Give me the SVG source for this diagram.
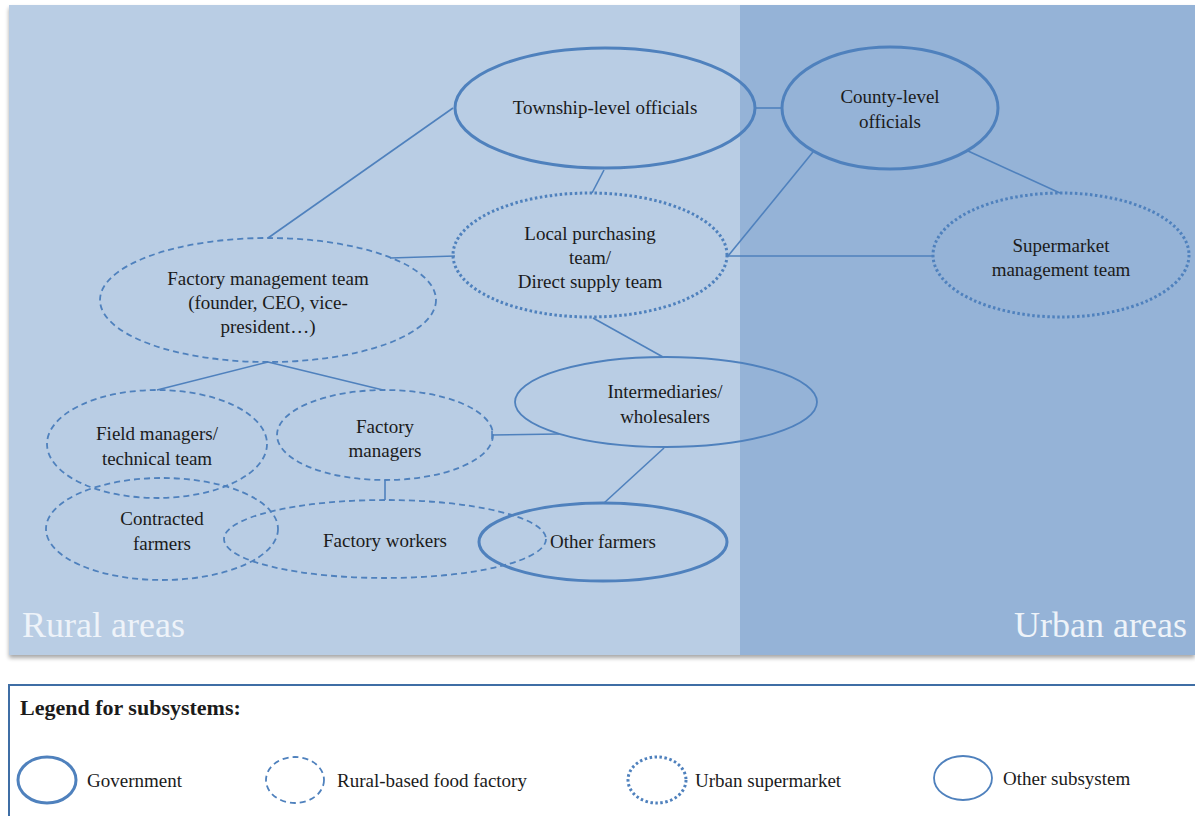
<svg xmlns="http://www.w3.org/2000/svg" width="1195" height="816" viewBox="0 0 1195 816">
<defs>
<style>
.t{font-family:"Liberation Serif","DejaVu Serif",serif;font-size:19px;fill:#1b1b1b;text-anchor:middle}
.tl{font-family:"Liberation Serif","DejaVu Serif",serif;font-size:19px;fill:#1b1b1b}
.area{font-family:"Liberation Serif","DejaVu Serif",serif;font-size:36px;fill:#EEF3F9}
.gov{fill:none;stroke:#4F81BD;stroke-width:3}
.fac{fill:none;stroke:#4F81BD;stroke-width:1.8;stroke-dasharray:6 4}
.sup{fill:none;stroke:#4F81BD;stroke-width:3;stroke-dasharray:2.5 2.5}
.oth{fill:none;stroke:#4F81BD;stroke-width:1.8}
.c line{stroke:#4F81BD;stroke-width:1.6}
</style>
<filter id="sh" x="-5%" y="-5%" width="110%" height="110%">
<feGaussianBlur in="SourceAlpha" stdDeviation="2"/>
<feOffset dx="0" dy="3"/>
<feComponentTransfer><feFuncA type="linear" slope="0.35"/></feComponentTransfer>
<feMerge><feMergeNode/><feMergeNode in="SourceGraphic"/></feMerge>
</filter>
</defs>
<rect width="1195" height="816" fill="#ffffff"/>
<g id="background" filter="url(#sh)">
<rect x="9" y="5" width="731" height="650" fill="#B9CDE4"/>
<rect x="740" y="5" width="455" height="650" fill="#95B3D7"/>
</g>
<text class="area" x="22" y="637">Rural areas</text>
<text class="area" x="1187" y="637" text-anchor="end">Urban areas</text>

<g id="connectors" class="c">
<line x1="453" y1="108" x2="268" y2="238"/>
<line x1="755" y1="108" x2="782" y2="108"/>
<line x1="604" y1="170" x2="592" y2="193"/>
<line x1="390" y1="258" x2="455" y2="256"/>
<line x1="813" y1="152" x2="728" y2="256"/>
<line x1="728" y1="256" x2="933" y2="256"/>
<line x1="968" y1="151" x2="1060" y2="193"/>
<line x1="593" y1="318" x2="663" y2="357"/>
<line x1="268" y1="362" x2="157" y2="390"/>
<line x1="268" y1="362" x2="383" y2="390"/>
<line x1="492" y1="435" x2="559" y2="434"/>
<line x1="492" y1="431" x2="492" y2="439"/>
<line x1="385" y1="480" x2="385" y2="500"/>
<line x1="664" y1="448" x2="604" y2="503"/>
</g>

<g id="township">
<ellipse class="gov" cx="605" cy="108" rx="150" ry="60"/>
<text class="t" x="605" y="114">Township-level officials</text>
</g>
<g id="county">
<ellipse class="gov" cx="890" cy="108" rx="108" ry="61"/>
<text class="t" x="890" y="103">County-level</text>
<text class="t" x="890" y="128">officials</text>
</g>
<g id="local-purchasing">
<ellipse class="sup" cx="590" cy="255" rx="137" ry="62"/>
<text class="t" x="590" y="240">Local purchasing</text>
<text class="t" x="590" y="264">team/</text>
<text class="t" x="590" y="288">Direct supply team</text>
</g>
<g id="supermarket">
<ellipse class="sup" cx="1061" cy="255" rx="128" ry="62"/>
<text class="t" x="1061" y="252">Supermarket</text>
<text class="t" x="1061" y="276">management team</text>
</g>
<g id="factory-management">
<ellipse class="fac" cx="268" cy="300" rx="168" ry="62"/>
<text class="t" x="268" y="285">Factory management team</text>
<text class="t" x="268" y="309">(founder, CEO, vice-</text>
<text class="t" x="268" y="333">president…)</text>
</g>
<g id="field-managers">
<ellipse class="fac" cx="157" cy="444" rx="110" ry="54"/>
<text class="t" x="157" y="440">Field managers/</text>
<text class="t" x="157" y="465">technical team</text>
</g>
<g id="factory-managers">
<ellipse class="fac" cx="385" cy="435" rx="108" ry="45"/>
<text class="t" x="385" y="433">Factory</text>
<text class="t" x="385" y="457">managers</text>
</g>
<g id="contracted-farmers">
<ellipse class="fac" cx="162" cy="529" rx="116" ry="51"/>
<text class="t" x="162" y="525">Contracted</text>
<text class="t" x="162" y="550">farmers</text>
</g>
<g id="factory-workers">
<ellipse class="fac" cx="385" cy="539" rx="161" ry="39"/>
<text class="t" x="385" y="547">Factory workers</text>
</g>
<g id="intermediaries">
<ellipse class="oth" cx="666" cy="402" rx="151" ry="45"/>
<text class="t" x="665" y="398">Intermediaries/</text>
<text class="t" x="665" y="423">wholesalers</text>
</g>
<g id="other-farmers">
<ellipse class="gov" cx="603" cy="542" rx="124" ry="39"/>
<text class="t" x="603" y="548">Other farmers</text>
</g>

<g id="legend">
<rect x="9" y="685" width="1200" height="140" fill="#ffffff" stroke="#3F6EA5" stroke-width="2"/>
<text class="tl" x="20" y="715" style="font-weight:bold;font-size:22px">Legend for subsystems:</text>
<ellipse class="gov" cx="47" cy="780" rx="29" ry="23"/>
<text class="tl" x="87" y="787">Government</text>
<ellipse class="fac" cx="295" cy="780" rx="29" ry="23"/>
<text class="tl" x="337" y="787">Rural-based food factory</text>
<ellipse class="sup" cx="657" cy="780" rx="29" ry="23"/>
<text class="tl" x="695" y="787">Urban supermarket</text>
<ellipse class="oth" cx="963" cy="778" rx="29" ry="22"/>
<text class="tl" x="1003" y="785">Other subsystem</text>
</g>
</svg>
